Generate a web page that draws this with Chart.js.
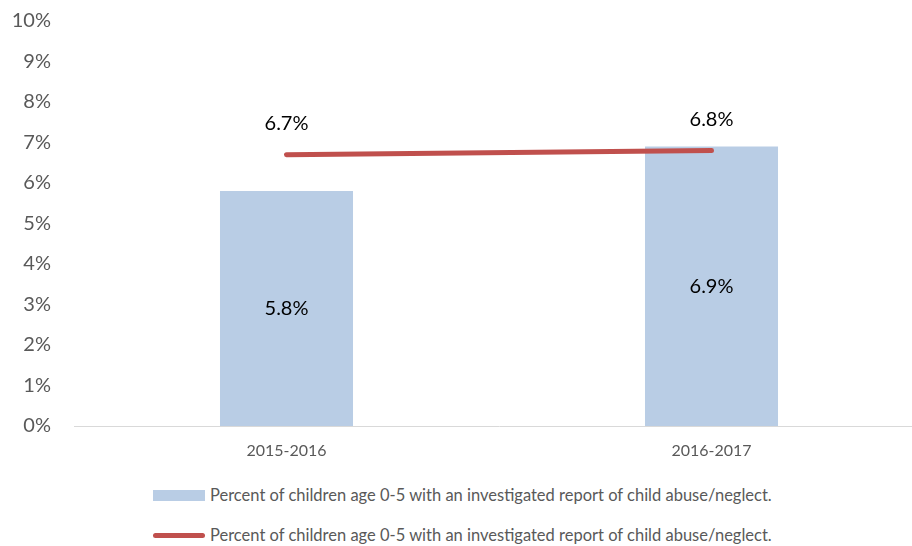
<!DOCTYPE html>
<html>
<head>
<meta charset="utf-8">
<script src="https://cdn.jsdelivr.net/npm/chart.js@4"></script>
<style>
  html, body { margin: 0; padding: 0; background: #fff; overflow: hidden; }
  #wrap { position: relative; top: -6px; width: 930px; height: 471px; }
  #legend { position: absolute; left: 153px; top: 475px; font-family: Lato, sans-serif; font-size: 16.5px; color: #595959; }
  .row { display: flex; align-items: center; height: 40px; }
  .box { width: 52px; height: 11px; margin-right: 5px; }
  .ln { width: 52px; height: 5px; border-radius: 3px; margin-right: 5px; }
</style>
</head>
<body>
<div id="wrap"><canvas id="chart" width="930" height="471"></canvas></div>
<div id="legend"></div>
<script>
// ==========================
// データ
// ==========================
const categories = ["2015-2016", "2016-2017"];
const barValues = [5.8, 6.9];
const lineValues = [6.7, 6.8];
const yTicks = [0, 1, 2, 3, 4, 5, 6, 7, 8, 9, 10];
const seriesName = "Percent of children age 0-5 with an investigated report of child abuse/neglect.";

const barColor = "#b9cde5";
const lineColor = "#c0504d";

// ==========================
// 値ラベル
// ==========================
const valueLabels = {
  id: "valueLabels",
  afterDatasetsDraw(chart) {
    const ctx = chart.ctx;
    ctx.save();
    ctx.font = "20px Lato, sans-serif";
    ctx.fillStyle = "#000";
    ctx.textAlign = "center";
    ctx.textBaseline = "middle";
    chart.data.datasets.forEach((ds, i) => {
      const meta = chart.getDatasetMeta(i);
      meta.data.forEach((el, j) => {
        const txt = ds.data[j].toFixed(1) + "%";
        if (ds.type === "line") {
          ctx.fillText(txt, el.x, el.y - 31);
        } else {
          ctx.fillText(txt, el.x, (el.y + el.base) / 2);
        }
      });
    });
    ctx.restore();
  }
};

new Chart(document.getElementById("chart"), {
  data: {
    labels: categories,
    datasets: [
      {
        type: "line",
        label: seriesName,
        data: lineValues,
        borderColor: lineColor,
        borderWidth: 5,
        borderCapStyle: "round",
        pointRadius: 0,
        order: 0
      },
      {
        type: "bar",
        label: seriesName,
        data: barValues,
        backgroundColor: barColor,
        categoryPercentage: 1,
        barPercentage: 0.313,
        order: 1
      }
    ]
  },
  options: {
    responsive: false,
    animation: false,
    layout: { padding: { top: 17, right: 6, left: 0, bottom: 0 } },
    plugins: { legend: { display: false }, tooltip: { enabled: false } },
    scales: {
      x: {
        offset: true,
        grid: { display: false },
        border: { display: true, color: "#d9d9d9", width: 1 },
        ticks: { color: "#595959", font: { family: "Lato", size: 16 }, padding: 7 },
        afterFit: s => { s.height = 39; }
      },
      y: {
        min: 0,
        max: 10,
        afterBuildTicks: s => { s.ticks = yTicks.map(v => ({ value: v })); },
        grid: { display: false },
        border: { display: false },
        ticks: { color: "#595959", font: { family: "Lato", size: 20 }, padding: 15, callback: v => v + "%" },
        afterFit: s => { s.width = 74; }
      }
    }
  },
  plugins: [valueLabels]
});

// ==========================
// 凡例
// ==========================
document.getElementById("legend").innerHTML = `
  <div class="row"><span class="box" style="background:${barColor}"></span>${seriesName}</div>
  <div class="row"><span class="ln" style="background:${lineColor}"></span>${seriesName}</div>
`;
</script>
</body>
</html>
